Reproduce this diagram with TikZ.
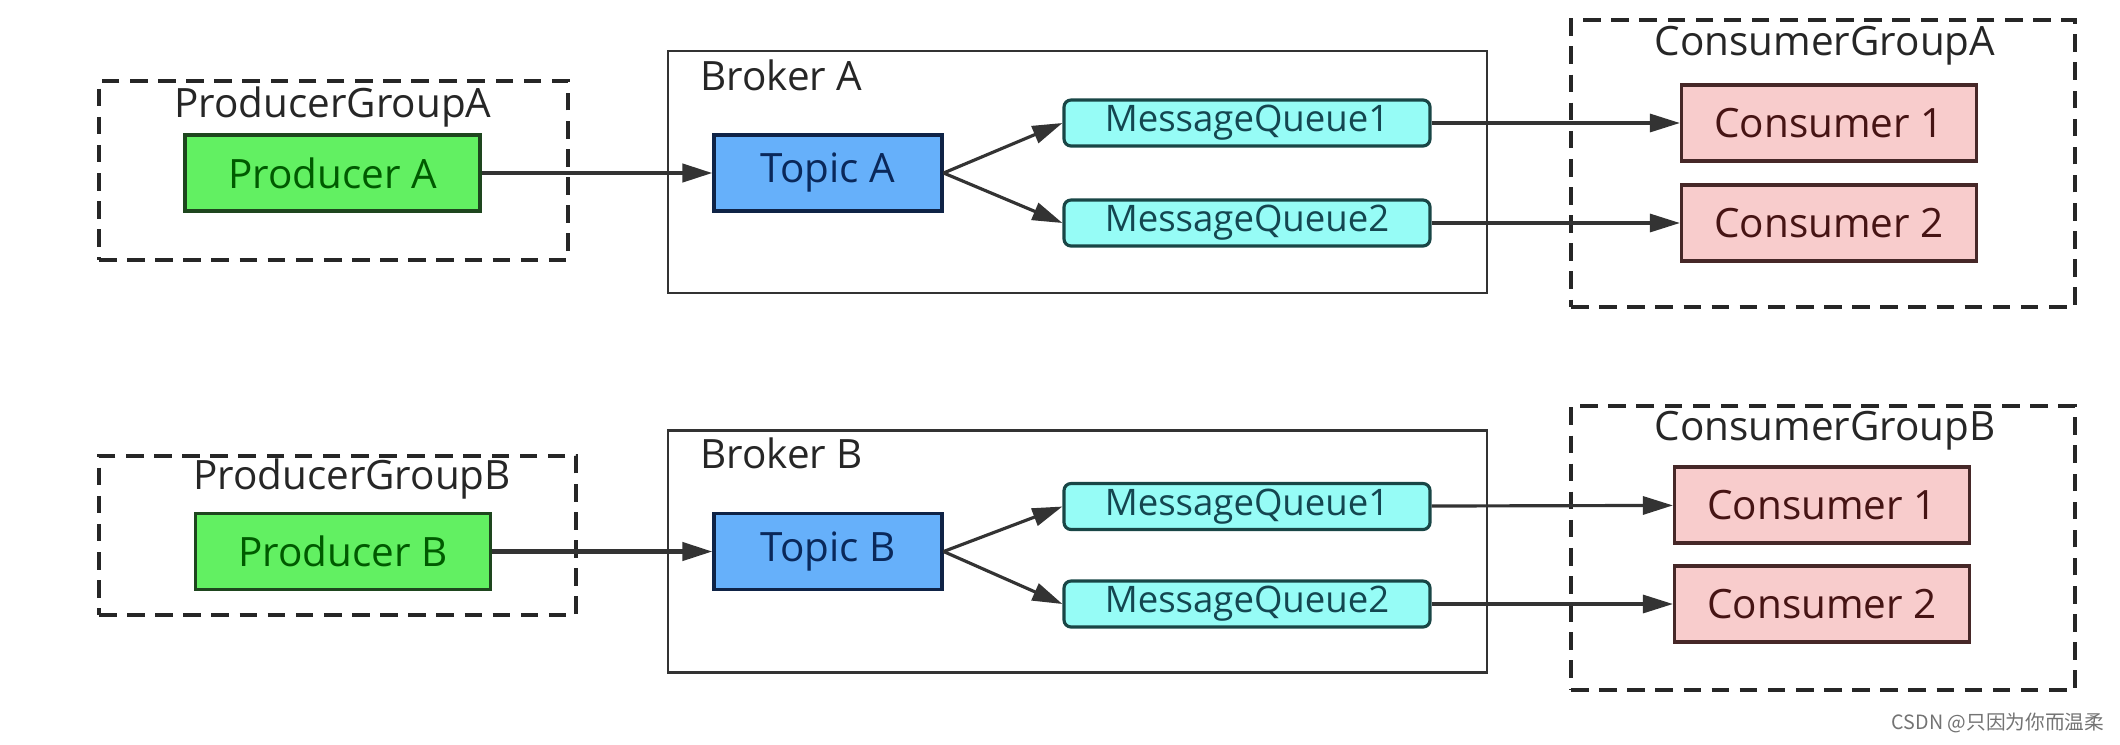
\documentclass[tikz,border=0pt]{standalone}
\usepackage{fontspec}
\setmainfont{Open Sans}
\newfontfamily\cjkfont{Noto Sans CJK SC}
\usetikzlibrary{arrows.meta}
\definecolor{prodfill}{RGB}{98,240,98}
\definecolor{prodline}{RGB}{30,70,30}
\definecolor{prodtext}{RGB}{0,90,0}
\definecolor{topicfill}{RGB}{102,176,250}
\definecolor{topicline}{RGB}{15,35,70}
\definecolor{topictext}{RGB}{10,40,90}
\definecolor{queuefill}{RGB}{150,252,246}
\definecolor{queueline}{RGB}{25,70,70}
\definecolor{queuetext}{RGB}{20,70,80}
\definecolor{consfill}{RGB}{248,204,204}
\definecolor{consline}{RGB}{70,40,40}
\definecolor{constext}{RGB}{70,20,20}
\begin{document}
\begin{tikzpicture}[font=\fontsize{11.5}{13}\selectfont,
group/.style={draw=black!85,line width=0.9pt,dash pattern=on 5pt off 3pt,inner sep=0pt},
broker/.style={draw=black!80,line width=0.8pt,inner sep=0pt,minimum width=8.19cm,minimum height=2.42cm},
box/.style={line width=0.9pt,minimum width=2.95cm,minimum height=0.76cm,inner sep=0pt},
prod/.style={box,draw=prodline,fill=prodfill,text=prodtext},
topic/.style={box,minimum width=2.28cm,draw=topicline,fill=topicfill,text=topictext},
queue/.style={box,minimum width=3.66cm,minimum height=0.46cm,rounded corners=2pt,draw=queueline,fill=queuefill,text=queuetext,font=\fontsize{10.4}{12}\selectfont},
cons/.style={box,draw=consline,fill=consfill,text=constext},
title/.style={text=black!85},
flow/.style={draw=black!80,line width=0.9pt,-{Triangle[length=3mm,width=1.8mm]}}]
\useasboundingbox (0,0) rectangle (21.2,-7.44);

% top row
\node[group,minimum width=4.69cm,minimum height=1.79cm] (pga) at(3.335,-1.705) {};
\node[title] (pgalabel) at(3.33,-1.07) {ProducerGroupA};
\node[broker] (bra) at(10.775,-1.72) {};
\node[title,anchor=west] (bralabel) at(6.88,-0.75) {Broker A};
\node[group,minimum width=5.04cm,minimum height=2.87cm] (cga) at(18.23,-1.635) {};
\node[title] (cgalabel) at(18.25,-0.46) {ConsumerGroupA};

\node[prod] (pa) at(3.325,-1.73) {Producer A};
\node[topic] (ta) at(8.28,-1.73) {Topic A};
\node[queue] (qa1) at(12.47,-1.23) {MessageQueue1};
\node[queue] (qa2) at(12.47,-2.23) {MessageQueue2};
\node[cons] (ca1) at(18.29,-1.23) {Consumer 1};
\node[cons] (ca2) at(18.29,-2.23) {Consumer 2};

\draw[flow,line width=1.2pt](pa)--(ta);
\draw[flow](ta.east)--(qa1.west);
\draw[flow](ta.east)--(qa2.west);
\draw[flow](qa1)--(ca1);
\draw[flow](qa2)--(ca2);

% bottom row
\node[group,minimum width=4.77cm,minimum height=1.59cm] (pgb) at(3.375,-5.355) {};
\node[title] (pgblabel) at(3.52,-4.79) {ProducerGroupB};
\node[broker] (brb) at(10.775,-5.515) {};
\node[title,anchor=west] (brblabel) at(6.88,-4.53) {Broker B};
\node[group,minimum width=5.04cm,minimum height=2.84cm] (cgb) at(18.23,-5.48) {};
\node[title] (cgblabel) at(18.25,-4.31) {ConsumerGroupB};

\node[prod] (pb) at(3.43,-5.515) {Producer B};
\node[topic] (tb) at(8.28,-5.515) {Topic B};
\node[queue] (qb1) at(12.47,-5.065) {MessageQueue1};
\node[queue] (qb2) at(12.47,-6.04) {MessageQueue2};
\node[cons] (cb1) at(18.22,-5.05) {Consumer 1};
\node[cons] (cb2) at(18.22,-6.04) {Consumer 2};

\draw[flow,line width=1.2pt](pb)--(tb);
\draw[flow](tb.east)--(qb1.west);
\draw[flow](tb.east)--(qb2.west);
\draw[flow](qb1)--(cb1);
\draw[flow](qb2)--(cb2);

\node[text=black!55,font=\cjkfont\fontsize{5.6}{6}\selectfont] (mark) at(19.98,-7.23) {CSDN @只因为你而温柔};
\end{tikzpicture}
\end{document}
